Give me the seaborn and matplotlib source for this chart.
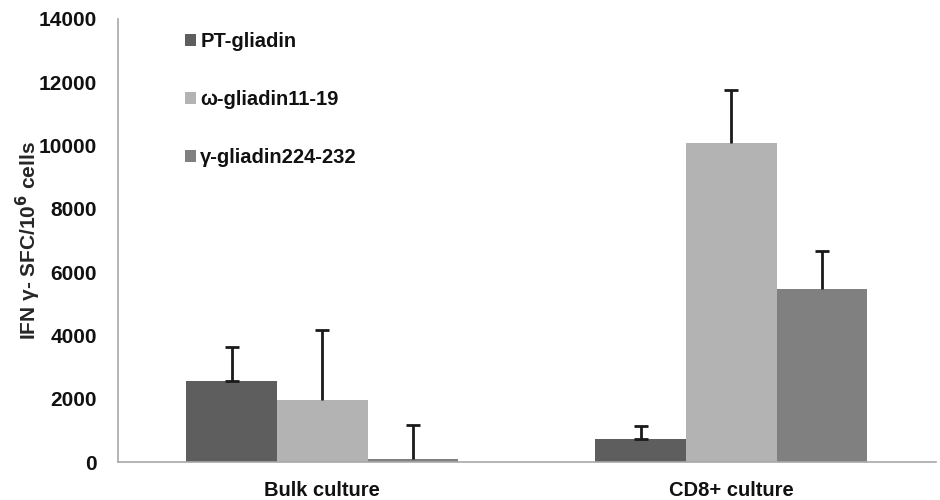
import numpy as np
import pandas as pd
import matplotlib
matplotlib.use("Agg")
import matplotlib.pyplot as plt
import seaborn as sns

# Data
cultures = ["Bulk culture", "CD8+ culture"]
peptides = ["PT-gliadin", "ω-gliadin11-19", "γ-gliadin224-232"]
means = {
    "PT-gliadin": [2560, 720],
    "ω-gliadin11-19": [1970, 10080],
    "γ-gliadin224-232": [100, 5480],
}
errors = {
    "PT-gliadin": [1070, 420],
    "ω-gliadin11-19": [2190, 1690],
    "γ-gliadin224-232": [1070, 1190],
}
colors = ["#5e5e5e", "#b3b3b3", "#808080"]

# Long table for seaborn
rows = []
for p in peptides:
    for c, v in zip(cultures, means[p]):
        rows.append({"culture": c, "peptide": p, "value": v})
df = pd.DataFrame(rows)

sns.set_style("white")
plt.rcParams["font.family"] = ["Liberation Sans", "DejaVu Sans"]
plt.rcParams["font.weight"] = "bold"

fig = plt.figure(figsize=(9.4, 5.0), dpi=100)
ax = fig.add_axes([0.1255, 0.076, 0.870, 0.886])

sns.barplot(data=df, x="culture", y="value", hue="peptide", hue_order=peptides,
            order=cultures, palette=colors, saturation=1, width=0.665,
            errorbar=None, linewidth=0, ax=ax)

# Upper error bars; PT series also shows a cap at bar top
for i, (p, cont) in enumerate(zip(peptides, ax.containers)):
    xs = [b.get_x() + b.get_width() / 2 for b in cont]
    err = np.array([np.zeros(len(xs)), errors[p]])
    _, caps, _ = ax.errorbar(xs, means[p], yerr=err, fmt="none", ecolor="#1a1a1a",
                             elinewidth=2, capsize=5, capthick=2, zorder=3)
    if i != 0:
        caps[0].set_visible(False)

ax.set_xlim(-0.5, 1.5)
ax.set_ylim(0, 14000)
ax.set_yticks(np.arange(0, 14001, 2000))
ax.set_ylabel("IFN γ- SFC/10$^6$ cells", fontsize=15, fontweight="bold", labelpad=-3)
ax.set_xlabel("")

sns.despine(ax=ax)
for s in ["left", "bottom"]:
    ax.spines[s].set_color("#a8a8a8")
    ax.spines[s].set_linewidth(1.2)

ax.tick_params(axis="y", length=5, color="#a8a8a8", labelsize=15, pad=10,
               labelcolor="#111111")
ax.tick_params(axis="x", which="major", length=0, labelsize=14.5, pad=14,
               labelcolor="#111111")
ax.set_xticks([-0.5, 0.5, 1.5], minor=True)
ax.tick_params(axis="x", which="minor", length=6, color="#a8a8a8")
for lab in ax.get_xticklabels() + ax.get_yticklabels():
    lab.set_fontweight("bold")

handles, labels = ax.get_legend_handles_labels()
ax.legend(handles, labels, loc="upper left", bbox_to_anchor=(0.06, 1.012),
          frameon=False, prop={"weight": "bold", "size": 14.5},
          handlelength=0.55, handleheight=0.55, handletextpad=0.2,
          labelspacing=1.95, labelcolor="#111111")

fig.savefig("out.png", dpi=100)
